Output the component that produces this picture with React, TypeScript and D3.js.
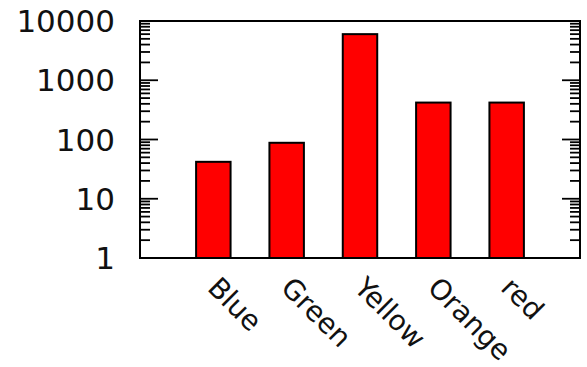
import React from 'react';
import * as d3 from 'd3';

const categories: string[] = ['Blue', 'Green', 'Yellow', 'Orange', 'red'];
const values: number[] = [42, 88, 6000, 420, 420];
const majorTicks: number[] = [1, 10, 100, 1000, 10000];

const W = 587;
const H = 367;
const left = 140;
const right = 580;
const top = 21;
const bottom = 258;

export default function App() {
  const x = d3.scaleLinear().domain([0, categories.length + 1]).range([left, right]);
  const y = d3.scaleLog().domain([1, 10000]).range([bottom, top]);
  const allTicks = y.ticks();
  const minorTicks = allTicks.filter((t) => !majorTicks.includes(t));
  const unit = x(1) - x(0);
  const bw = unit * 0.47;
  const majorLen = 18;
  const minorLen = 10;

  return (
    <svg width={W} height={H} style={{ position: 'absolute', left: 0, top: 0, background: '#fff' }}
      fontFamily="DejaVu Sans, sans-serif">
      <rect x={0} y={0} width={W} height={H} fill="#fff" />
      {/* bars */}
      {values.map((v, i) => (
        <rect key={'b' + i}
          x={x(i + 1) - bw / 2}
          y={y(v)}
          width={bw}
          height={y(1) - y(v)}
          fill="#ff0000"
          stroke="#000"
          strokeWidth={2}
        />
      ))}
      {/* minor ticks */}
      {minorTicks.map((t, i) => (
        <g key={'m' + i}>
          <line x1={left} x2={left + minorLen} y1={y(t)} y2={y(t)} stroke="#000" strokeWidth={1.8} />
          <line x1={right} x2={right - minorLen} y1={y(t)} y2={y(t)} stroke="#000" strokeWidth={1.8} />
        </g>
      ))}
      {/* major ticks */}
      {majorTicks.map((t, i) => (
        <g key={'M' + i}>
          <line x1={left} x2={left + majorLen} y1={y(t)} y2={y(t)} stroke="#000" strokeWidth={1.8} />
          <line x1={right} x2={right - majorLen} y1={y(t)} y2={y(t)} stroke="#000" strokeWidth={1.8} />
          <text x={115} y={y(t)} dy="0.36em" textAnchor="end" fontSize={31} fill="#111">{String(t)}</text>
        </g>
      ))}
      {/* frame */}
      <rect x={left} y={top} width={right - left} height={bottom - top} fill="none" stroke="#000" strokeWidth={2} />
      {/* x labels */}
      {categories.map((c, i) => (
        <text key={'x' + i}
          transform={`translate(${x(i + 1)},${bottom + 24}) rotate(45)`}
          dy="0.36em"
          textAnchor="start"
          fontSize={28}
          fill="#111">{c}</text>
      ))}
    </svg>
  );
}
